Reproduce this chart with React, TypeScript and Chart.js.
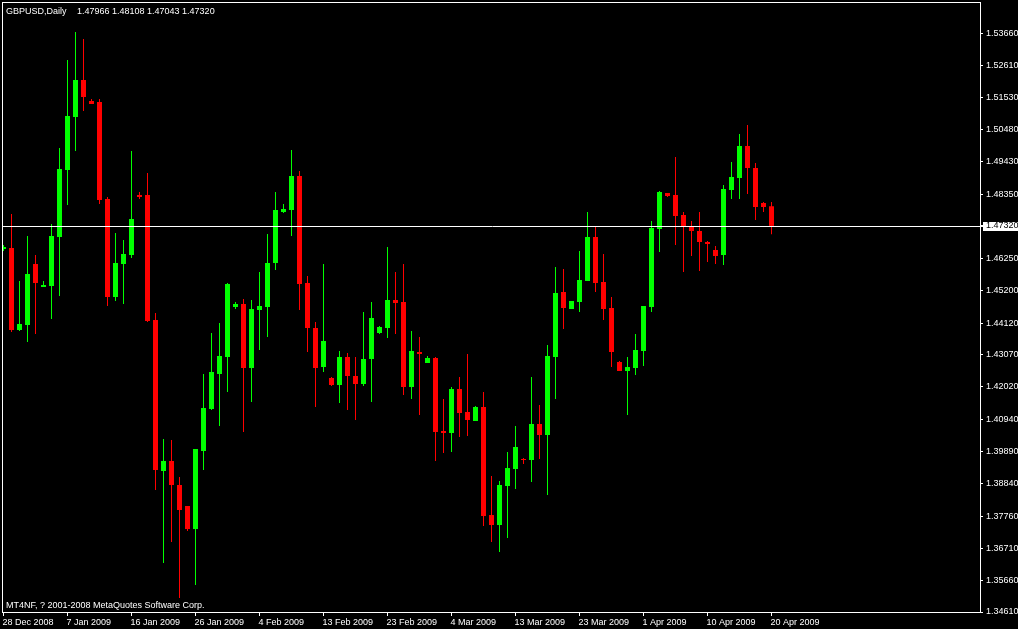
import React, { useEffect, useRef } from "react";
import { Chart, registerables } from "chart.js";

Chart.register(...registerables);

const symbolTitle = "GBPUSD,Daily";
const copyrightText = "MT4NF, ? 2001-2008 MetaQuotes Software Corp.";

const opens = [
  1.46559, 1.46592, 1.43892, 1.44057, 1.46065, 1.45308, 1.45341, 1.46954, 1.4916, 1.50904,
  1.52122, 1.51431, 1.51398, 1.48205, 1.44979, 1.46065, 1.46361, 1.48337, 1.48337, 1.44222,
  1.39251, 1.3958, 1.3879, 1.38099, 1.37341, 1.39909, 1.41292, 1.42444, 1.43004, 1.4465,
  1.44748, 1.42641, 1.44551, 1.4465, 1.46098, 1.47777, 1.47843, 1.48962, 1.4544, 1.43958,
  1.42674, 1.42312, 1.42082, 1.43004, 1.42378, 1.42115, 1.42938, 1.43794, 1.43958, 1.4488,
  1.44814, 1.42016, 1.43168, 1.42806, 1.42971, 1.40568, 1.40502, 1.4195, 1.41193, 1.40897,
  1.41358, 1.37802, 1.37473, 1.38757, 1.39317, 1.39646, 1.39613, 1.40798, 1.40436, 1.43004,
  1.45143, 1.44584, 1.44814, 1.45506, 1.46954, 1.45473, 1.44617, 1.42839, 1.42543, 1.42641,
  1.43201, 1.4465, 1.47217, 1.48402, 1.48337, 1.47678, 1.47316, 1.47152, 1.46789, 1.46526,
  1.46361, 1.48501, 1.48896, 1.4995, 1.49225, 1.48073, 1.47966,
];

const highs = [
  1.46691, 1.47711, 1.45506, 1.46987, 1.46361, 1.45506, 1.47382, 1.49884, 1.52781, 1.53703,
  1.53472, 1.51497, 1.51497, 1.48271, 1.47086, 1.46855, 1.49785, 1.48435, 1.49061, 1.44452,
  1.40304, 1.40271, 1.39053, 1.38099, 1.39975, 1.42444, 1.43794, 1.44123, 1.4544, 1.44814,
  1.44913, 1.4488, 1.45802, 1.47053, 1.48435, 1.4804, 1.49818, 1.49127, 1.4567, 1.44156,
  1.46065, 1.42345, 1.43201, 1.43135, 1.43004, 1.44485, 1.44814, 1.44024, 1.46625, 1.45802,
  1.46065, 1.4386, 1.43662, 1.43037, 1.43004, 1.41621, 1.42016, 1.42345, 1.43102, 1.41391,
  1.41851, 1.39086, 1.38922, 1.39876, 1.40732, 1.39679, 1.42345, 1.41423, 1.43399, 1.45966,
  1.45901, 1.44847, 1.46493, 1.47777, 1.47316, 1.46394, 1.44979, 1.42872, 1.43004, 1.43761,
  1.44683, 1.47481, 1.48468, 1.48402, 1.49588, 1.47777, 1.47481, 1.47777, 1.46822, 1.46658,
  1.48666, 1.49423, 1.50345, 1.50641, 1.4939, 1.48106, 1.48108,
];

const lows = [
  1.46493, 1.43827, 1.4386, 1.43497, 1.43761, 1.45308, 1.44255, 1.45012, 1.48007, 1.49785,
  1.51102, 1.51332, 1.4804, 1.44683, 1.44847, 1.44748, 1.46263, 1.48205, 1.44156, 1.38625,
  1.36222, 1.36913, 1.3507, 1.37276, 1.35498, 1.39284, 1.41259, 1.40732, 1.41851, 1.44584,
  1.40535, 1.41522, 1.43234, 1.43662, 1.45868, 1.47744, 1.46987, 1.44551, 1.43168, 1.41358,
  1.4251, 1.42049, 1.41489, 1.41259, 1.4093, 1.42049, 1.41522, 1.43761, 1.43629, 1.43761,
  1.41753, 1.41621, 1.41094, 1.42806, 1.3958, 1.39843, 1.39876, 1.4037, 1.40403, 1.40897,
  1.3744, 1.36913, 1.36584, 1.37045, 1.38658, 1.39481, 1.38889, 1.39646, 1.38461, 1.41621,
  1.43925, 1.44584, 1.44485, 1.45506, 1.45143, 1.44222, 1.42674, 1.42543, 1.41094, 1.42411,
  1.42707, 1.44485, 1.4646, 1.48271, 1.46691, 1.45802, 1.46329, 1.45835, 1.46131, 1.46065,
  1.46032, 1.48205, 1.48205, 1.4837, 1.47514, 1.47777, 1.47043,
];

const closes = [
  1.46625, 1.43892, 1.4409, 1.45736, 1.4544, 1.45374, 1.46987, 1.49193, 1.50937, 1.52122,
  1.51563, 1.51332, 1.48172, 1.44979, 1.46098, 1.46394, 1.47547, 1.48271, 1.44189, 1.39284,
  1.3958, 1.3879, 1.37967, 1.37341, 1.39975, 1.41325, 1.4251, 1.43037, 1.45407, 1.44748,
  1.42641, 1.44584, 1.44683, 1.46098, 1.47843, 1.47876, 1.48962, 1.45407, 1.43958, 1.42641,
  1.4353, 1.42082, 1.43004, 1.42378, 1.42115, 1.42938, 1.44287, 1.43991, 1.4488, 1.44781,
  1.42016, 1.43201, 1.43102, 1.42971, 1.40535, 1.40502, 1.4195, 1.4116, 1.4093, 1.41358,
  1.37769, 1.37473, 1.3879, 1.39349, 1.40041, 1.39613, 1.40798, 1.40436, 1.43037, 1.4511,
  1.44617, 1.44847, 1.45538, 1.46954, 1.4544, 1.44584, 1.43168, 1.42543, 1.42674, 1.43234,
  1.44683, 1.4725, 1.48435, 1.48304, 1.47645, 1.47283, 1.47152, 1.46789, 1.46724, 1.46329,
  1.48534, 1.48929, 1.4995, 1.49225, 1.47942, 1.47942, 1.4732,
];

const dateTickLabels = [
  "28 Dec 2008", "7 Jan 2009", "16 Jan 2009", "26 Jan 2009", "4 Feb 2009", "13 Feb 2009",
  "23 Feb 2009", "4 Mar 2009", "13 Mar 2009", "23 Mar 2009", "1 Apr 2009", "10 Apr 2009", "20 Apr 2009",
];
const dateTickBars = [0, 8, 16, 24, 32, 40, 48, 56, 64, 72, 80, 88, 96];

const priceTicks = [
  1.5366, 1.5261, 1.5153, 1.5048, 1.4943, 1.4835, 1.4732, 1.4625, 1.452, 1.4412,
  1.4307, 1.4202, 1.4094, 1.3989, 1.3884, 1.3776, 1.3671, 1.3566, 1.3461,
];

const lastPrice = closes[closes.length - 1];

const BULL = "#00ff00";
const BEAR = "#ff0000";
const FG = "#ffffff";
const FONT_FAMILY = "'Liberation Sans', Arial, sans-serif";

export default function App() {
  const ref = useRef<HTMLCanvasElement | null>(null);

  useEffect(() => {
    document.body.style.margin = "0";
    document.body.style.background = "#000";
    const canvas = ref.current;
    if (!canvas) return;

    const colorOf = (i: number) => (closes[i] >= opens[i] ? BULL : BEAR);
    const bodies = opens.map((o, i) => ({ x: i, y: [o, closes[i]] }));
    const wicks = lows.map((l, i) => ({ x: i, y: [l, highs[i]] }));
    const font = { family: FONT_FAMILY, size: 9 };

    const mt4Decor = {
      id: "mt4Decor",
      beforeDraw(chart: any) {
        const y = chart.scales.y.getPixelForValue(lastPrice);
        const ctx = chart.ctx;
        ctx.save();
        ctx.fillStyle = FG;
        ctx.fillRect(chart.chartArea.right + 3, Math.round(y) - 4, 40, 9);
        ctx.restore();
      },
      afterDatasetsDraw(chart: any) {
        const { left, right, top, bottom } = chart.chartArea;
        const ctx = chart.ctx;
        const y = Math.round(chart.scales.y.getPixelForValue(lastPrice)) + 0.5;
        ctx.save();
        ctx.strokeStyle = FG;
        ctx.lineWidth = 1;
        ctx.beginPath();
        ctx.moveTo(left, y);
        ctx.lineTo(right + 3, y);
        ctx.stroke();
        ctx.strokeRect(left + 0.5, top + 0.5, right - left, bottom - top);
        ctx.restore();
      },
      afterDraw(chart: any) {
        const ctx = chart.ctx;
        const n = closes.length - 1;
        ctx.save();
        ctx.fillStyle = FG;
        ctx.font = `9px ${FONT_FAMILY}`;
        ctx.textBaseline = "alphabetic";
        ctx.fillText(symbolTitle, 6, 14);
        const ohlc = [opens[n], highs[n], lows[n], closes[n]].map((v) => v.toFixed(5)).join(" ");
        ctx.fillText(ohlc, 77, 14);
        ctx.fillText(copyrightText, 6, 608);
        ctx.restore();
      },
    };

    const chart = new Chart(canvas, {
      type: "bar",
      data: {
        datasets: [
          {
            label: "body",
            data: bodies as any,
            backgroundColor: (c: any) => colorOf(c.dataIndex),
            barThickness: 5,
            grouped: false,
            minBarLength: 1,
            borderWidth: 0,
            inflateAmount: 0,
            order: 1,
          } as any,
          {
            label: "wick",
            data: wicks as any,
            backgroundColor: (c: any) => colorOf(c.dataIndex),
            barThickness: 1,
            grouped: false,
            minBarLength: 1,
            borderWidth: 0,
            inflateAmount: 0,
            order: 2,
          } as any,
        ],
      },
      options: {
        animation: false,
        responsive: false,
        maintainAspectRatio: false,
        layout: { padding: { top: 2, left: 2, right: 0, bottom: 0 } },
        plugins: { legend: { display: false }, tooltip: { enabled: false } },
        scales: {
          x: {
            type: "linear",
            position: "bottom",
            min: -0.1875,
            max: 122.0625,
            offset: false,
            grid: { display: true, drawOnChartArea: false, drawTicks: true, tickLength: 4, color: FG, offset: false },
            border: { display: false },
            ticks: {
              autoSkip: false,
              maxRotation: 0,
              align: "start",
              color: FG,
              font,
              padding: 1,
              labelOffset: -1,
              callback: (_v: any, i: number) => dateTickLabels[i],
            },
            afterBuildTicks: (s: any) => {
              s.ticks = dateTickBars.map((v) => ({ value: v }));
            },
            afterFit: (s: any) => {
              s.height = 17;
              s.paddingLeft = 0;
              s.paddingRight = 0;
              s.paddingTop = 0;
              s.paddingBottom = 0;
            },
          } as any,
          y: {
            type: "linear",
            position: "right",
            min: 1.3461,
            max: 1.5469,
            grid: { display: true, drawOnChartArea: false, drawTicks: true, tickLength: 3, color: FG },
            border: { display: false },
            ticks: {
              autoSkip: false,
              color: (c: any) => (Math.abs(c.tick.value - lastPrice) < 1e-9 ? "#000000" : FG),
              font,
              padding: 3,
              callback: (v: any) => Number(v).toFixed(5),
            },
            afterBuildTicks: (s: any) => {
              s.ticks = priceTicks.map((v) => ({ value: v }));
            },
            afterFit: (s: any) => {
              s.width = 38;
              s.paddingTop = 0;
              s.paddingBottom = 0;
              s.paddingLeft = 0;
              s.paddingRight = 0;
            },
          } as any,
        },
      },
      plugins: [mt4Decor],
    });

    return () => chart.destroy();
  }, []);

  return (
    <canvas
      ref={ref}
      width={1018}
      height={629}
      style={{ display: "block", width: 1018, height: 629, background: "#000" }}
    />
  );
}
